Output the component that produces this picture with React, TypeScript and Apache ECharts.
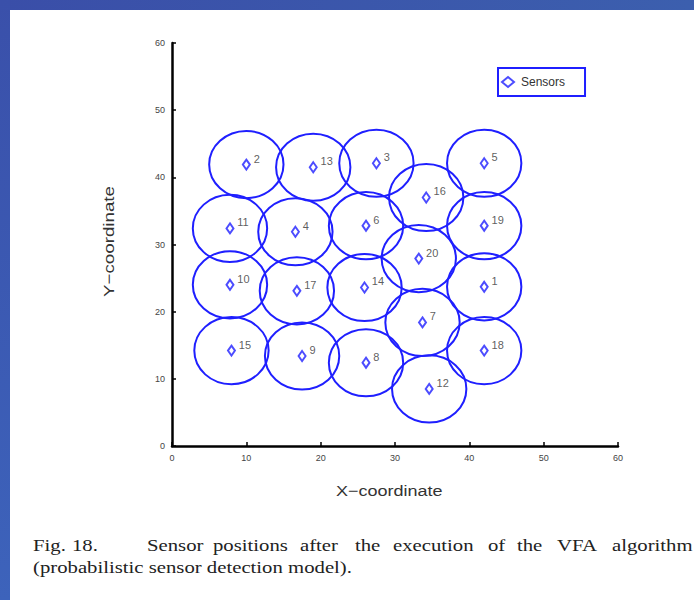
import React, { useEffect, useRef } from "react";
import * as echarts from "echarts";

const sensorIds = [1, 2, 3, 4, 5, 6, 7, 8, 9, 10, 11, 12, 13, 14, 15, 16, 17, 18, 19, 20];
const sensorX = [42, 10, 27.5, 16.6, 42, 26.1, 33.7, 26.1, 17.5, 7.8, 7.8, 34.6, 19, 25.9, 8, 34.2, 16.8, 42, 42, 33.2];
const sensorY = [23.7, 41.9, 42.1, 31.9, 42.1, 32.8, 18.4, 12.4, 13.4, 24, 32.4, 8.5, 41.5, 23.6, 14.2, 37, 23.1, 14.2, 32.8, 27.9];
const sensorRadius = 5;
const axisMin = 0;
const axisMax = 60;
const axisStep = 10;

const xAxisTitle = "X\u2212coordinate";
const yAxisTitle = "Y\u2212coordinate";
const captionWords = [
  { t: "Fig.", x: 33 },
  { t: "18.", x: 72 },
  { t: "Sensor", x: 147 },
  { t: "positions", x: 213 },
  { t: "after", x: 300 },
  { t: "the", x: 355 },
  { t: "execution", x: 393 },
  { t: "of", x: 488 },
  { t: "the", x: 517 },
  { t: "VFA", x: 557 },
  { t: "algorithm", x: 612 },
];
const captionLine2 = "(probabilistic sensor detection model).";

export default function App() {
  const ref = useRef<HTMLDivElement>(null);
  useEffect(() => {
    if (!ref.current) return;
    const chart = echarts.init(ref.current, undefined, { renderer: "svg" });
    const pts = sensorX.map((x, i) => [x, sensorY[i], sensorIds[i]]);
    const blue = "#1f1fff";
    const serif = "'Liberation Serif', 'Times New Roman', serif";
    const sans = "'Liberation Sans', Arial, sans-serif";
    const captionEls: any[] = captionWords.map((w) => ({
      type: "text",
      x: w.x,
      y: 545,
      scaleX: 1.22,
      style: {
        text: w.t,
        font: `17px ${serif}`,
        fill: "#222",
        textAlign: "left",
        textVerticalAlign: "middle",
      },
    }));
    chart.setOption({
      animation: false,
      backgroundColor: "#ffffff",
      grid: { left: 172, top: 43, width: 446, height: 403, containLabel: false },
      xAxis: {
        type: "value",
        min: axisMin,
        max: axisMax,
        interval: axisStep,
        axisLine: { show: true, onZero: false, lineStyle: { color: "#000", width: 2.5 } },
        axisTick: { show: true, inside: true, length: 4, lineStyle: { color: "#000", width: 1.5 } },
        axisLabel: { fontSize: 9, color: "#444", margin: 7, fontFamily: sans },
        splitLine: { show: false },
      },
      yAxis: {
        type: "value",
        min: axisMin,
        max: axisMax,
        interval: axisStep,
        axisLine: { show: true, onZero: false, lineStyle: { color: "#000", width: 2.5 } },
        axisTick: { show: true, inside: true, length: 4, lineStyle: { color: "#000", width: 1.5 } },
        axisLabel: { fontSize: 9, color: "#444", margin: 7, fontFamily: sans },
        splitLine: { show: false },
      },
      legend: {
        data: ["Sensors"],
        left: 498,
        top: 68,
        orient: "horizontal",
        borderColor: blue,
        borderWidth: 2,
        borderRadius: 0,
        padding: [8, 20, 8, 3],
        itemWidth: 12,
        itemHeight: 10,
        itemGap: 4,
        textStyle: { fontSize: 12, color: "#333", fontFamily: sans, padding: [0, 0, 0, 2] },
      },
      series: [
        {
          type: "custom",
          name: "ranges",
          data: pts,
          silent: true,
          z: 2,
          renderItem: (params: any, api: any) => {
            const c = api.coord([api.value(0), api.value(1)]);
            const s = api.size([sensorRadius, sensorRadius]);
            return {
              type: "ellipse",
              shape: { cx: c[0], cy: c[1], rx: s[0], ry: s[1] },
              style: { fill: "none", stroke: blue, lineWidth: 2 },
            };
          },
        },
        {
          type: "scatter",
          name: "Sensors",
          data: pts,
          symbol: "emptyDiamond",
          symbolSize: [7, 10],
          z: 3,
          itemStyle: { color: blue, borderColor: blue, borderWidth: 1.6 },
          label: {
            show: true,
            position: "right",
            distance: 3,
            offset: [0, -6],
            formatter: (p: any) => String(p.value[2]),
            fontSize: 11,
            color: "#333",
            fontFamily: sans,
          },
        },
      ],
      graphic: [
        {
          type: "rect",
          shape: { x: 0, y: 0, width: 694, height: 10 },
          style: {
            fill: new echarts.graphic.LinearGradient(0, 0, 1, 0, [
              { offset: 0, color: "#3a4ea8" },
              { offset: 1, color: "#3c5fae" },
            ]),
          },
          silent: true,
        },
        {
          type: "rect",
          shape: { x: 0, y: 0, width: 10, height: 600 },
          style: {
            fill: new echarts.graphic.LinearGradient(0, 0, 0, 1, [
              { offset: 0, color: "#3a50aa" },
              { offset: 1, color: "#3d63bb" },
            ]),
          },
          silent: true,
        },
        {
          type: "text",
          x: 336,
          y: 491,
          scaleX: 1.2,
          style: {
            text: xAxisTitle,
            font: `15px ${sans}`,
            fill: "#333",
            textAlign: "left",
            textVerticalAlign: "middle",
          },
        },
        {
          type: "text",
          x: 109,
          y: 297,
          rotation: Math.PI / 2,
          scaleX: 1.25,
          style: {
            text: yAxisTitle,
            font: `15px ${sans}`,
            fill: "#333",
            textAlign: "left",
            textVerticalAlign: "middle",
          },
        },
        ...captionEls,
        {
          type: "text",
          x: 33,
          y: 567,
          scaleX: 1.22,
          style: {
            text: captionLine2,
            font: `17px ${serif}`,
            fill: "#222",
            textAlign: "left",
            textVerticalAlign: "middle",
          },
        },
      ],
    });
    return () => chart.dispose();
  }, []);
  return (
    <div
      ref={ref}
      style={{ position: "fixed", left: 0, top: 0, width: 694, height: 600 }}
    />
  );
}
